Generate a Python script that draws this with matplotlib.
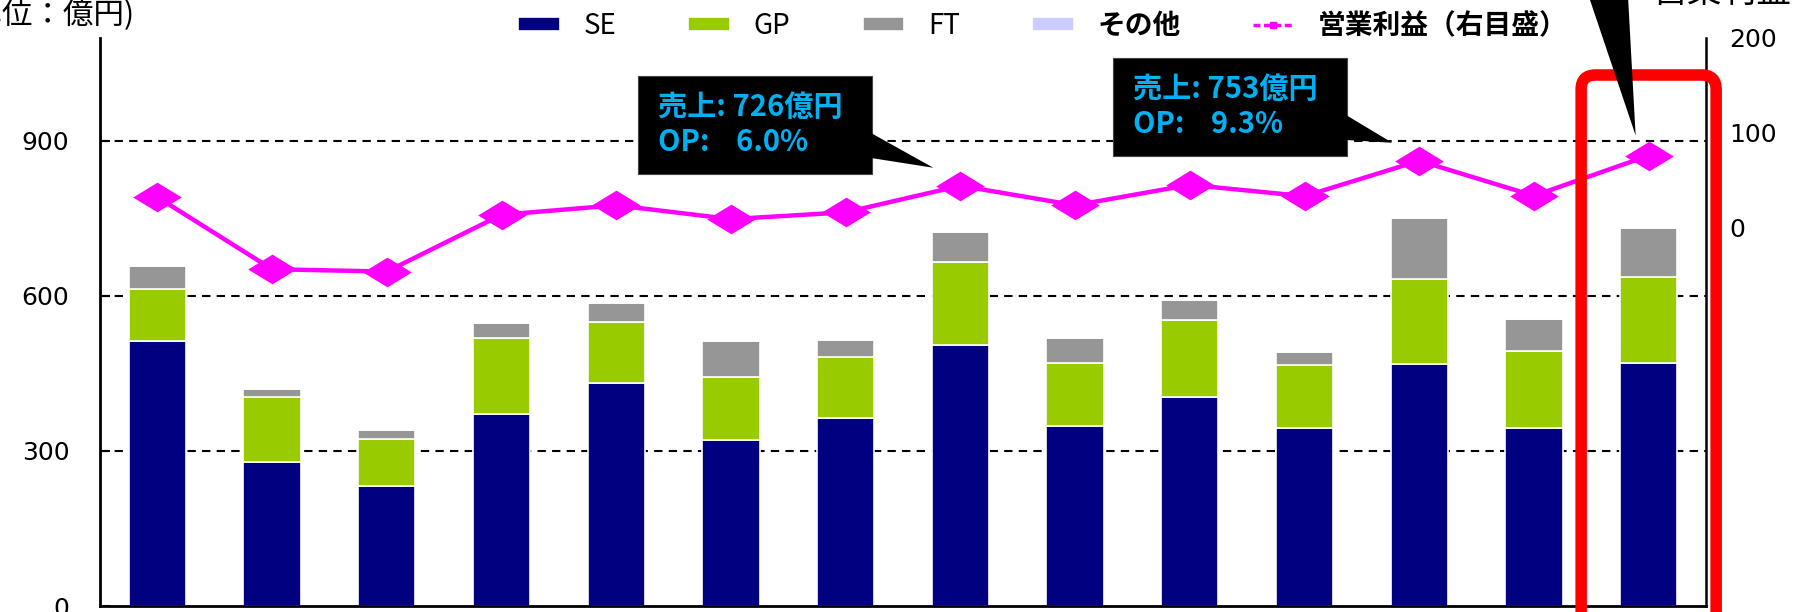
import matplotlib

matplotlib.use("Agg")
import matplotlib.pyplot as plt
import numpy as np
from matplotlib.lines import Line2D
from matplotlib.patches import FancyBboxPatch, Polygon, Rectangle
from matplotlib.path import Path

plt.rcParams["font.family"] = ["Noto Sans CJK JP", "DejaVu Sans"]

# 四半期ごとのセグメント別売上 (億円) と営業利益 (億円, 右目盛)
se = [513, 278, 233, 371, 431, 321, 363, 506, 348, 404, 345, 469, 345, 471]
gp = [100, 126, 91, 148, 118, 123, 118, 160, 123, 150, 121, 163, 148, 166]
ft = [45, 16, 16, 28, 37, 68, 33, 58, 47, 39, 25, 119, 62, 94]
other = [2, 2, 2, 2, 2, 2, 2, 2, 2, 2, 2, 2, 2, 2]
op_profit = [31.6, -44.5, -47.0, 13.0, 23.0, 8.4, 15.6, 43.6, 23.0, 44.6, 32.6, 70.0, 33.0, 75.5]

segments = ["SE", "GP", "FT", "その他"]
seg_colors = ["#000080", "#99CC00", "#969696", "#CCCCFF"]
line_label = "営業利益（右目盛）"
callout_idx = [7, 11]

W, H = 1798, 612
fig = plt.figure(figsize=(W / 100, H / 100), dpi=100)
ax = fig.add_axes([100 / W, 6 / H, 1606 / W, 568.4 / H])


def fig_xy(px, py):
    """pixel position measured from the top-left corner -> figure fraction"""
    return px / W, 1 - py / H


x = np.arange(len(se))
bottom = np.zeros(len(se))
for vals, name, color in zip([se, gp, ft, other], segments, seg_colors):
    ax.bar(x, vals, 0.5, bottom=bottom, color=color, edgecolor="white",
           linewidth=1.2, label=name, zorder=2)
    bottom += np.array(vals)
totals = bottom

for level in (300, 600, 900):
    ax.axhline(level, color="black", lw=1.5, ls=(0, (4, 3)), zorder=1)

ax.set_xlim(-0.5, 13.5)
ax.set_ylim(0, 1100)
ax.set_xticks([])
ax.set_yticks([0, 300, 600, 900])
ax.tick_params(axis="y", direction="in", length=7, width=1.5, pad=22, labelsize=18)
for lab in ax.get_yticklabels():
    lab.set_family("DejaVu Sans")
ax.spines["top"].set_visible(False)
ax.spines["right"].set_visible(False)
ax.spines["left"].set_linewidth(2)
ax.spines["bottom"].set_linewidth(2)

ax2 = ax.twinx()
diamond = Path([(0, 0.61), (1, 0), (0, -0.61), (-1, 0), (0, 0.61)],
               [Path.MOVETO, Path.LINETO, Path.LINETO, Path.LINETO, Path.CLOSEPOLY])
ax2.plot(x, op_profit, color="#FF00FF", lw=3.2, marker=diamond, markersize=35,
         markeredgewidth=0, zorder=5)
ax2.set_ylim(-400, 200)
ax2.set_yticks([0, 100, 200])
ax2.tick_params(axis="y", length=0, pad=17, labelsize=18)
for lab in ax2.get_yticklabels():
    lab.set_family("DejaVu Sans")
for side in ("top", "left", "bottom"):
    ax2.spines[side].set_visible(False)
ax2.spines["right"].set_linewidth(1.8)

# 凡例
handles, labels = ax.get_legend_handles_labels()
handles.append(Line2D([], [], color="#FF00FF", lw=2.5, ls=(0, (2, 1)),
                      marker="s", markersize=4))
labels.append(line_label)
leg = fig.legend(handles, labels, loc="center left",
                 bbox_to_anchor=fig_xy(518, 26), ncol=5, frameon=False,
                 fontsize=20, handlelength=1.5, handleheight=0.42,
                 handletextpad=0.85, columnspacing=2.6, borderaxespad=0,
                 borderpad=0)
for txt in leg.get_texts()[3:]:
    txt.set_fontweight("bold")

fig.text(*fig_xy(135, 15), "(単位：億円)", ha="right", va="center", fontsize=22)
fig.text(*fig_xy(1653, 2), "営業利益", ha="left", va="baseline", fontsize=25)

# 吹き出し (売上・営業利益率)
to_frac = fig.transFigure.inverted()
boxes = [(638, 76), (1113, 58)]
for idx, (bx, by) in zip(callout_idx, boxes):
    bw, bh = 234, 98
    mx, my = ax2.transData.transform((idx, op_profit[idx]))
    tip = to_frac.transform((mx - 27, my + 18))
    fig.add_artist(Rectangle(fig_xy(bx, by + bh), bw / W, bh / H,
                             transform=fig.transFigure, facecolor="black",
                             edgecolor="#444444", lw=0.8, zorder=8))
    fig.add_artist(Polygon([fig_xy(bx + bw - 1, by + 57), fig_xy(bx + bw - 1, by + 82), tip],
                           closed=True, transform=fig.transFigure,
                           facecolor="black", edgecolor="none", zorder=8))
    pct = op_profit[idx] / totals[idx] * 100
    fig.text(*fig_xy(bx + 20, by + 31), f"売上: {totals[idx]:.0f}億円",
             color="#00B0F0", fontsize=21, fontweight="bold", va="center", zorder=9)
    fig.text(*fig_xy(bx + 20, by + 66), f"OP:    {pct:.1f}%",
             color="#00B0F0", fontsize=21, fontweight="bold", va="center", zorder=9)

# 直近四半期の強調枠と引き出し
lx, _ = ax.transData.transform((x[-1], 0))
frame_w = 135
fl, fb = to_frac.transform((lx - frame_w / 2, -30))
fig.add_artist(FancyBboxPatch((fl, fb), frame_w / W, (H - 75 + 30) / H,
                              boxstyle="round,pad=0,rounding_size=0.008",
                              transform=fig.transFigure, facecolor="none",
                              edgecolor="#FF0000", lw=8.3, zorder=10,
                              mutation_aspect=W / H))
mx, my = ax2.transData.transform((x[-1], op_profit[-1]))
tip = to_frac.transform((mx - 13, my + 20))
fig.add_artist(Polygon([fig_xy(lx - 62, -10), fig_xy(lx - 21, -10), tip], closed=True,
                       transform=fig.transFigure, facecolor="black",
                       edgecolor="none", zorder=11))

fig.savefig("out.png", dpi=100, facecolor="white")
